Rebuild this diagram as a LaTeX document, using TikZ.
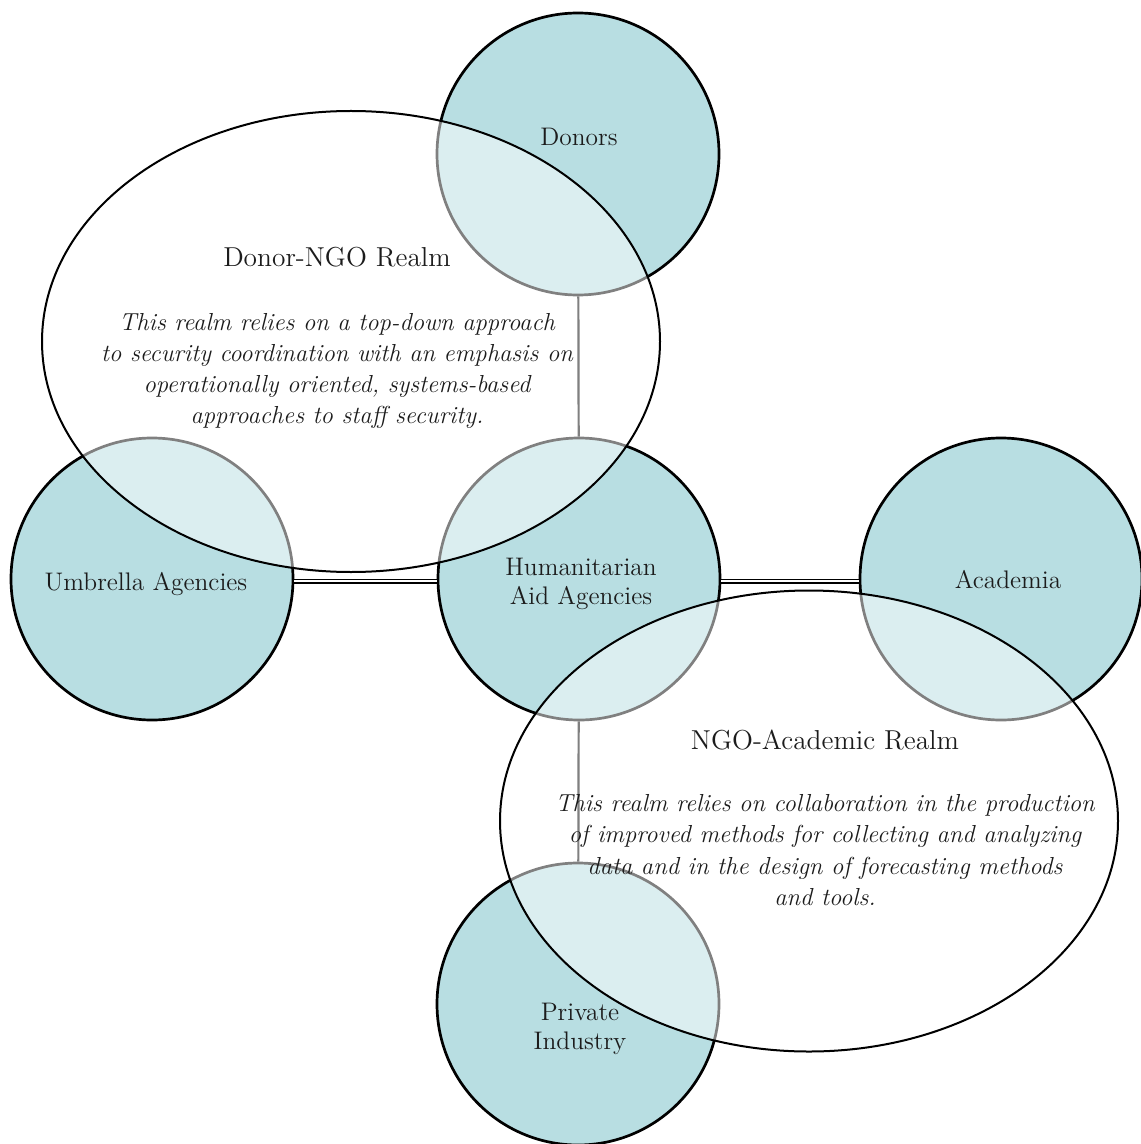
\documentclass[tikz,border=0pt]{standalone}
\usepackage{fontspec}
\usetikzlibrary{shapes.geometric}
\definecolor{circfill}{RGB}{184,222,226}
\definecolor{textc}{RGB}{28,28,28}
\begin{document}
\begin{tikzpicture}[x=0.5pt,y=-0.5pt,
  party/.style={circle,minimum size=141pt,inner sep=0pt,fill=circfill,draw=black,line width=1.35pt},
  realm/.style={ellipse,minimum width=309pt,minimum height=230.5pt,inner sep=0pt,draw=black,line width=1pt,fill=white,fill opacity=0.5},
  link/.style={draw=black,line width=1.1pt},
  dlink/.style={draw=black,line width=0.75pt,double=white,double distance=1pt},
  lbl/.style={text=textc,font=\fontsize{12.7}{14.4}\selectfont,inner sep=0pt,anchor=base},
  ttl/.style={text=textc,font=\fontsize{13.7}{16}\selectfont,inner sep=0pt,anchor=base},
  body/.style={text=textc,font=\fontsize{12.3}{15.6}\selectfont\itshape,align=center,inner sep=0pt,anchor=base}]
\useasboundingbox (0,0) rectangle (1140,1144);
% parties
\node[party] (donors) at (578,154) {};
\node[party] (umb) at (152,579) {};
\node[party] (hum) at (579,579) {};
\node[party] (acad) at (1001,579) {};
\node[party] (priv) at (578,1004) {};
% connectors
\draw[link] (donors) -- (hum);
\draw[link] (hum) -- (priv);
\draw[dlink] ([yshift=-1pt]umb.east) -- ([yshift=-1pt]hum.west);
\draw[dlink] ([yshift=-1pt]hum.east) -- ([yshift=-1pt]acad.west);
% realms
\node[realm] (dnr) at (351,341.5) {};
\node[realm] (nar) at (809,821) {};
% labels (base anchor = baseline of the last line)
\node[lbl] (tdonors) at (579,146) {Donors};
\node[lbl] (tumb) at (146,590) {Umbrella Agencies};
\node[lbl,align=center] (thum) at (581,604) {Humanitarian\\Aid Agencies};
\node[lbl] (tacad) at (1008,588) {Academia};
\node[lbl,align=center] (tpriv) at (580,1049) {Private\\Industry};
\node[ttl] (tdnr) at (337,267) {Donor-NGO Realm};
\node[body] (bdnr) at (337,423.6) {This realm relies on a top-down approach\\to security coordination with an emphasis on\\operationally oriented, systems-based\\approaches to staff security.};
\node[ttl] (tnar) at (825,749) {NGO-Academic Realm};
\node[body] (bnar) at (825,905.3) {This realm relies on collaboration in the production\\of improved methods for collecting and analyzing\\data and in the design of forecasting methods\\and tools.};
\end{tikzpicture}
\end{document}
